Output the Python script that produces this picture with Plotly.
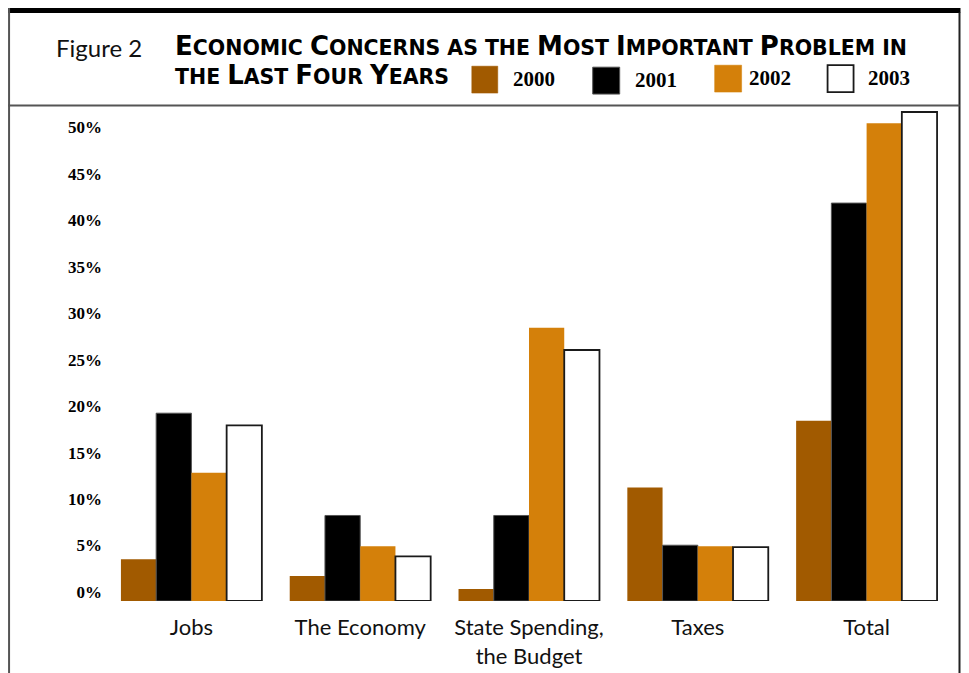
import plotly.graph_objects as go

categories = ["Jobs", "The Economy", "State Spending,<br>the Budget", "Taxes", "Total"]
years = ["2000", "2001", "2002", "2003"]
v2000 = [4.5, 2.7, 1.3, 12.2, 19.4]
v2001 = [20.2, 9.2, 9.2, 6.0, 42.8]
v2002 = [13.8, 5.9, 29.4, 5.9, 51.4]
v2003 = [18.9, 4.8, 27.0, 5.8, 52.6]
tick_vals = [0, 5, 10, 15, 20, 25, 30, 35, 40, 45, 50]
tick_text = ["0%", "5%", "10%", "15%", "20%", "25%", "30%", "35%", "40%", "45%", "50%"]

series = [v2000, v2001, v2002, v2003]
fills = ["#A15A00", "#000000", "#D4800A", "#FFFFFF"]
lines = ["#A15A00", "#555555", "#D4800A", "#1a1a1a"]
lwidth = [0, 1, 0, 1.8]

W, H = 969, 673
OFF = 8  # default page margin of the html body
X0, X1 = 107, 951.5   # plot area in page pixels
YT, YB = 105, 603.3
PXPCT = 9.34


def px(x):
    return (x - X0) / (X1 - X0)


def py(y):
    return (YB - y) / (YB - YT)


fig = go.Figure()
for name, vals, fc, lc, lw in zip(years, series, fills, lines, lwidth):
    fig.add_trace(go.Bar(x=categories, y=vals, name=name,
                         marker=dict(color=fc, line=dict(color=lc, width=lw)),
                         showlegend=False))

shapes = []
# frame
shapes.append(dict(type="rect", xref="paper", yref="paper", x0=px(8), x1=px(961),
                   y0=py(12.5), y1=py(4), fillcolor="black", line=dict(width=0), layer="above"))
shapes.append(dict(type="line", xref="paper", yref="paper", x0=px(9), x1=px(9),
                   y0=py(6), y1=py(700), line=dict(color="#555555", width=2)))
shapes.append(dict(type="line", xref="paper", yref="paper", x0=px(960), x1=px(960),
                   y0=py(12), y1=py(700), line=dict(color="#222222", width=2)))
shapes.append(dict(type="line", xref="paper", yref="paper", x0=px(8), x1=px(960),
                   y0=py(105.5), y1=py(105.5), line=dict(color="#555555", width=2)))

# legend swatches and labels
leg_sw = [(472, 66, 498, 93), (593, 67, 620, 94), (715, 65, 742, 92), (828, 65, 854, 92)]
leg_tx = [(511, 79), (633, 80), (747, 78), (866, 78)]
annotations = []
for (a, b, c, d), (tx, ty), fc, lc, lw, yr in zip(leg_sw, leg_tx, fills, lines, lwidth, years):
    shapes.append(dict(type="rect", xref="paper", yref="paper", x0=px(a), x1=px(c),
                       y0=py(d), y1=py(b), fillcolor=fc,
                       line=dict(color=lc if lw else fc, width=max(lw, 0.5))))
    annotations.append(dict(xref="paper", yref="paper", x=px(tx), y=py(ty), text="<b>" + yr + "</b>",
                            showarrow=False, xanchor="left", yanchor="middle",
                            font=dict(family="Liberation Serif", size=21, color="black")))

annotations.append(dict(xref="paper", yref="paper", x=px(54), y=py(47), text="Figure 2",
                        showarrow=False, xanchor="left", yanchor="middle",
                        font=dict(family="Lato", size=24, color="#111111")))


def smallcaps(words, big=26, small=20.5):
    out = []
    for w in words:
        if w[0].isupper():
            out.append('<span style="font-size:%gpx">%s</span><span style="font-size:%gpx">%s</span>'
                       % (big, w[0], small, w[1:].upper()))
        else:
            out.append('<span style="font-size:%gpx">%s</span>' % (small, w.upper()))
    return "<b>" + " ".join(out) + "</b>"


title1 = "Economic Concerns as the Most Important Problem in".split()
title2 = "the Last Four Years".split()
annotations.append(dict(xref="paper", yref="paper", x=px(173), y=py(63), text=smallcaps(title1),
                        showarrow=False, xanchor="left", yanchor="bottom",
                        font=dict(family="DejaVu Sans", size=20, color="black")))
annotations.append(dict(xref="paper", yref="paper", x=px(173), y=py(92), text=smallcaps(title2),
                        showarrow=False, xanchor="left", yanchor="bottom",
                        font=dict(family="DejaVu Sans", size=20, color="black")))

fig.update_layout(
    width=W, height=H,
    margin=dict(l=X0 - OFF, r=W - (X1 - OFF), t=YT - OFF, b=H - (YB - OFF), pad=0),
    paper_bgcolor="white", plot_bgcolor="white",
    barmode="group", bargap=0.165, bargroupgap=0,
    shapes=shapes, annotations=annotations,
    xaxis=dict(showgrid=False, zeroline=False, showline=False, ticks="",
               ticklabelstandoff=11,
               tickfont=dict(family="Lato", size=22, color="#111111")),
    yaxis=dict(range=[0, (YB - YT) / PXPCT], showgrid=False, zeroline=False, showline=False,
               ticks="", tickvals=tick_vals, ticktext=["<b>" + t + "</b>" for t in tick_text],
               ticklabelshift=-9, ticklabelstandoff=4,
               tickfont=dict(family="Liberation Serif", size=17, color="black")),
)

fig.write_html("out.html", config={"displayModeBar": False})
